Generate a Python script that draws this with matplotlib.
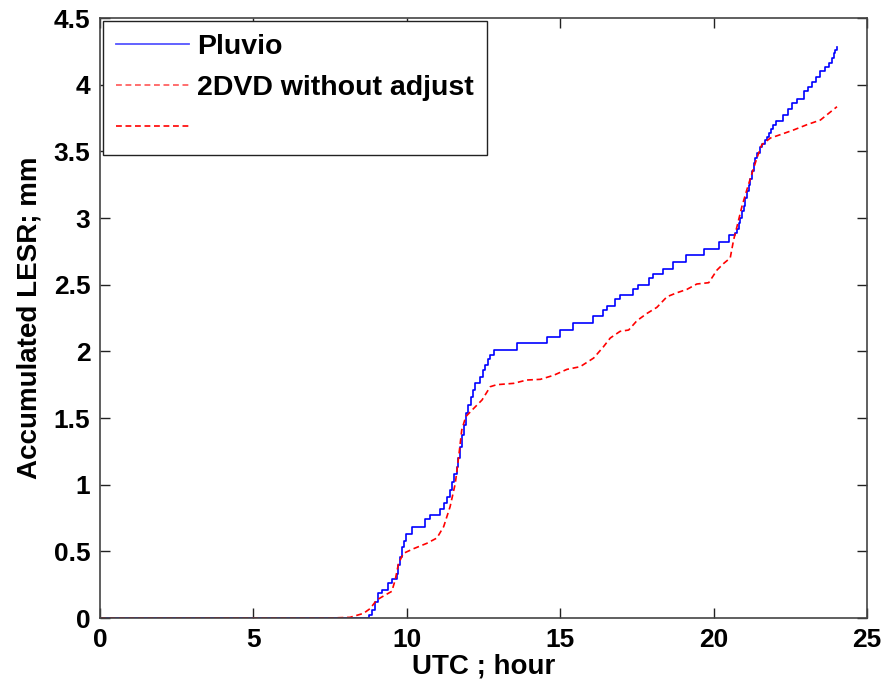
import matplotlib
matplotlib.use("Agg")
import matplotlib.pyplot as plt
from matplotlib.lines import Line2D

plt.rcParams['font.family'] = ['Liberation Sans', 'DejaVu Sans']
plt.rcParams['font.weight'] = 'bold'

# Pluvio accumulated (step function: time of step, new value)
pluvio_t = [0, 8.77, 8.86, 8.95, 9.07, 9.18, 9.37, 9.51, 9.67, 9.72, 9.78, 9.85, 9.92, 9.98,
            10.16, 10.6, 10.76, 11.09, 11.2, 11.3, 11.4, 11.47, 11.55, 11.63, 11.68, 11.74,
            11.79, 11.85, 11.92, 12.0, 12.09, 12.16, 12.23, 12.39, 12.47, 12.55, 12.63, 12.72,
            12.85, 13.59, 14.56, 14.98, 15.4, 16.06, 16.39, 16.52, 16.79, 16.95, 17.37, 17.55,
            17.88, 18.02, 18.34, 18.69, 19.1, 19.7, 20.18, 20.5, 20.7, 20.76, 20.82, 20.87,
            20.93, 20.98, 21.03, 21.08, 21.14, 21.19, 21.25, 21.3, 21.36, 21.41, 21.5, 21.57,
            21.66, 21.74, 21.8, 21.87, 21.95, 22.03, 22.26, 22.41, 22.57, 22.71, 22.93, 23.07,
            23.2, 23.35, 23.48, 23.62, 23.75, 23.85, 23.91, 23.97, 24.02]
pluvio_v = [0, 0.02, 0.06, 0.12, 0.185, 0.21, 0.26, 0.29, 0.33, 0.40, 0.46, 0.53, 0.58, 0.63,
            0.68, 0.74, 0.77, 0.82, 0.86, 0.91, 0.96, 1.02, 1.08, 1.135, 1.2, 1.285,
            1.37, 1.45, 1.535, 1.6, 1.66, 1.71, 1.76, 1.81, 1.86, 1.9, 1.94, 1.97,
            2.01, 2.06, 2.11, 2.16, 2.215, 2.265, 2.31, 2.34, 2.39, 2.42, 2.47, 2.50,
            2.55, 2.58, 2.62, 2.67, 2.72, 2.77, 2.82, 2.87, 2.89, 2.92, 2.96, 3.0,
            3.05, 3.09, 3.15, 3.2, 3.25, 3.29, 3.35, 3.41, 3.45, 3.49, 3.53, 3.555,
            3.585, 3.61, 3.64, 3.665, 3.70, 3.73, 3.77, 3.815, 3.86, 3.89, 3.95, 3.98,
            4.02, 4.06, 4.10, 4.13, 4.16, 4.2, 4.235, 4.26, 4.285]

# 2DVD without adjust (smooth)
dvd_t = [0, 7.5, 8.15, 8.59, 8.8, 9.02, 9.24, 9.51, 9.62, 9.73, 9.89, 10.22, 10.65, 10.98,
         11.2, 11.41, 11.58, 11.69, 11.79, 11.92, 12.17, 12.45, 12.72, 12.93, 13.48, 13.91,
         14.35, 14.78, 15.22, 15.65, 16.09, 16.41, 16.63, 16.95, 17.23, 17.5, 17.83, 18.15,
         18.48, 18.81, 19.13, 19.45, 19.84, 20.11, 20.33, 20.54, 20.65, 20.76, 20.92, 21.08,
         21.25, 21.41, 21.57, 21.85, 22.17, 22.6, 23.04, 23.48, 23.75, 24.02]
dvd_v = [0, 0, 0.005, 0.035, 0.07, 0.135, 0.165, 0.2, 0.285, 0.41, 0.485, 0.52, 0.56, 0.6,
         0.685, 0.835, 1.01, 1.21, 1.41, 1.51, 1.57, 1.635, 1.735, 1.75, 1.76, 1.785,
         1.79, 1.82, 1.865, 1.885, 1.95, 2.035, 2.1, 2.15, 2.16, 2.23, 2.285, 2.33,
         2.41, 2.44, 2.465, 2.505, 2.515, 2.61, 2.66, 2.7, 2.835, 2.935, 3.085, 3.21,
         3.335, 3.45, 3.55, 3.6, 3.625, 3.66, 3.7, 3.735, 3.785, 3.835]

legend_labels = ['Pluvio', '2DVD without adjust', '']

fig = plt.figure(figsize=(8.86, 6.94), dpi=100)
ax = fig.add_axes([0.1129, 0.1095, 0.8657, 0.8645])

ax.plot(pluvio_t, pluvio_v, color='#0000ff', lw=1.2, drawstyle='steps-post')
ax.plot(dvd_t, dvd_v, color='#ff0000', lw=1.2, ls=(0, (3.5, 2.2)))

ax.set_xlim(0, 25)
ax.set_ylim(0, 4.5)
ax.set_xticks([0, 5, 10, 15, 20, 25])
ax.set_yticks([0, 0.5, 1, 1.5, 2, 2.5, 3, 3.5, 4, 4.5])
ax.set_yticklabels(['0', '0.5', '1', '1.5', '2', '2.5', '3', '3.5', '4', '4.5'])
ax.tick_params(direction='in', top=True, right=True, length=7, width=1,
               labelsize=19, pad=7, color='#222222')
for lab in ax.get_xticklabels() + ax.get_yticklabels():
    lab.set_fontweight('bold')
for s in ax.spines.values():
    s.set_color('#444444')
    s.set_linewidth(1.2)

ax.set_xlabel('UTC ; hour', fontsize=20, fontweight='bold', labelpad=1)
ax.set_ylabel('Accumulated LESR; mm', fontsize=20, fontweight='bold', labelpad=8)

handles = [Line2D([], [], color='#5555ff', lw=1.3),
           Line2D([], [], color='#ff5555', lw=1.2, ls=(0, (3.5, 2.2))),
           Line2D([], [], color='#ff0000', lw=1.2, ls=(0, (3.5, 2.2)))]
leg = ax.legend(handles, legend_labels, loc='upper left', bbox_to_anchor=(0.004, 0.995),
                fancybox=False, edgecolor='#222222', framealpha=1,
                prop={'size': 20.5, 'weight': 'bold'}, handlelength=2.55,
                handletextpad=0.3, borderpad=0.45, labelspacing=0.53, borderaxespad=0)
leg.get_frame().set_linewidth(1.0)

fig.savefig('out.png', dpi=100)
